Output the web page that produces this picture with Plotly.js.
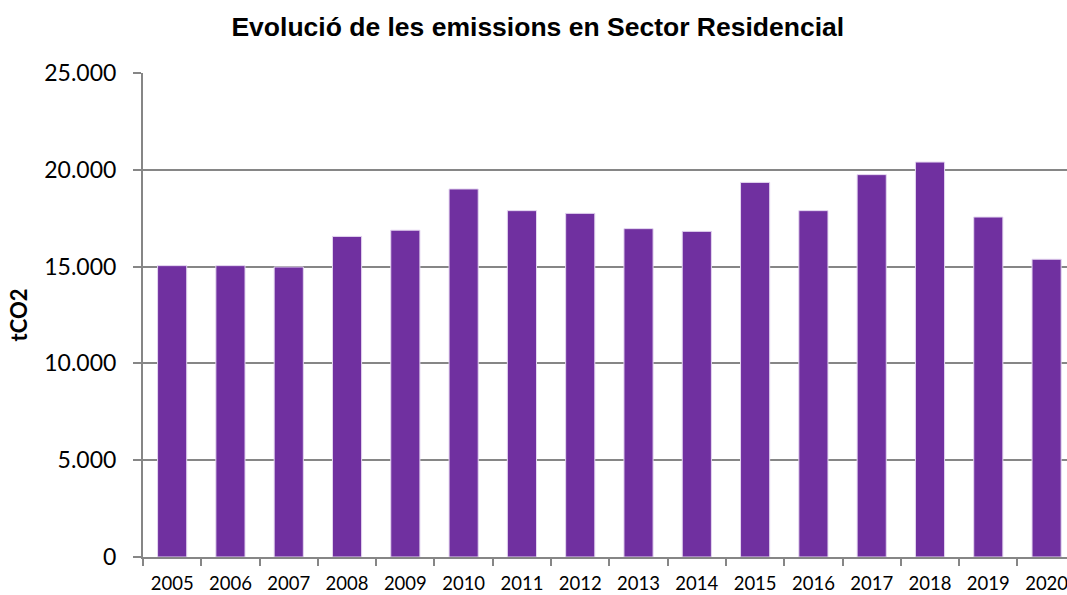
<!DOCTYPE html>
<html>
<head>
<meta charset="utf-8">
<script src="https://cdn.plot.ly/plotly-3.0.1.min.js"></script>
<style>html,body{margin:0;padding:0;background:#fff;}#chart{width:1067px;height:595px;}</style>
</head>
<body>
<div id="chart"></div>
<script>
const years = ['2005','2006','2007','2008','2009','2010','2011','2012','2013','2014','2015','2016','2017','2018','2019','2020'];
const emissions = [15050, 15050, 14980, 16560, 16880, 19010, 17890, 17750, 16960, 16820, 19350, 17890, 19750, 20400, 17560, 15380];
const chartTitle = 'Evolució de les emissions en Sector Residencial';
const yTitle = 'tCO2';

const trace = {
  type: 'bar',
  x: years,
  y: emissions,
  marker: {color: '#7030A0', line: {color: '#E4D6F0', width: 1}},
  hoverinfo: 'x+y'
};

const layout = {
  width: 1067, height: 595,
  margin: {l: 143, r: 0, t: 73, b: 38},
  paper_bgcolor: '#fff', plot_bgcolor: '#fff',
  separators: ',.',
  bargap: 0.5,
  showlegend: false,
  title: {
    text: '<b>' + chartTitle + '</b>',
    font: {family: 'Liberation Sans, Arial, sans-serif', size: 26.5, color: '#000'},
    x: 0.504, xanchor: 'center', y: 0.955, yanchor: 'middle'
  },
  xaxis: {
    type: 'category',
    range: [-0.5, 15.35],
    tickson: 'boundaries',
    ticks: 'outside', ticklen: 7, tickwidth: 2, tickcolor: '#868686',
    showline: true, linecolor: '#868686', linewidth: 2,
    showgrid: false,
    ticklabelstandoff: 9,
    tickfont: {family: 'Lato, Open Sans, sans-serif', size: 18.5, color: '#000'},
    fixedrange: true
  },
  yaxis: {
    range: [0, 25000],
    tickvals: [0, 5000, 10000, 15000, 20000, 25000],
    tickformat: ',d',
    separatethousands: true,
    ticks: 'outside', ticklen: 8, tickwidth: 2, tickcolor: '#868686',
    showline: true, linecolor: '#868686', linewidth: 2,
    showgrid: true, gridcolor: '#868686', gridwidth: 2,
    zeroline: false,
    ticklabelstandoff: 12,
    tickfont: {family: 'Lato, Open Sans, sans-serif', size: 23, color: '#000'},
    title: {text: '<b>' + yTitle + '</b>', font: {family: 'Lato, Open Sans, sans-serif', size: 22, color: '#000'}, standoff: 11},
    fixedrange: true
  }
};

Plotly.newPlot('chart', [trace], layout, {displayModeBar: false, staticPlot: true});
</script>
</body>
</html>
